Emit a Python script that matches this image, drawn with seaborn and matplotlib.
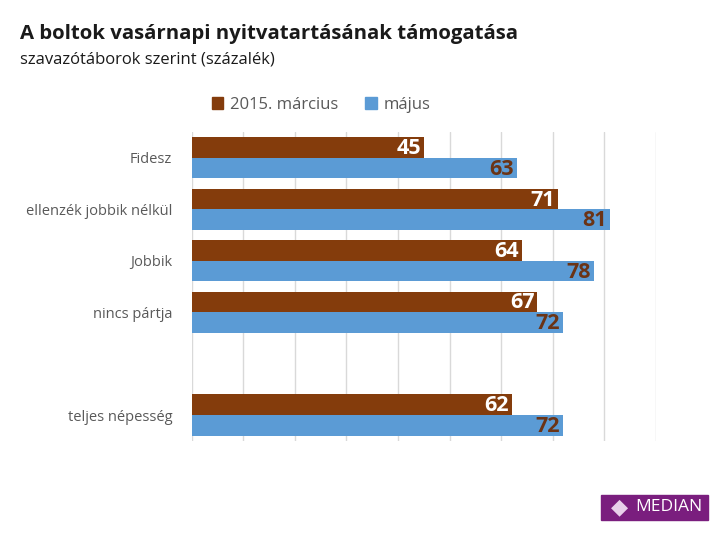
import matplotlib
matplotlib.use("Agg")
import matplotlib.pyplot as plt
import matplotlib.patches as mpatches
import seaborn as sns
import pandas as pd
from matplotlib import font_manager

categories = ["Fidesz", "ellenzék jobbik nélkül", "Jobbik", "nincs pártja", "teljes népesség"]
order = ["Fidesz", "ellenzék jobbik nélkül", "Jobbik", "nincs pártja", " ", "teljes népesség"]
march_2015 = [45, 71, 64, 67, 62]
may = [63, 81, 78, 72, 72]
series_names = ["2015. március", "május"]

title = "A boltok vasárnapi nyitvatartásának támogatása"
subtitle = "szavazótáborok szerint (százalék)"

sns.set_theme(style="white")
names = {f.name for f in font_manager.fontManager.ttflist}
base_font = "Open Sans" if "Open Sans" in names else "DejaVu Sans"
narrow = "Liberation Sans Narrow" if "Liberation Sans Narrow" in names else base_font
plt.rcParams["font.family"] = [base_font, "DejaVu Sans"]

df = pd.DataFrame({
    "cat": categories * 2,
    "value": march_2015 + may,
    "series": [series_names[0]] * len(categories) + [series_names[1]] * len(categories),
})

brown = "#843C0C"
blue = "#5B9BD5"

fig = plt.figure(figsize=(7.1, 5.33), dpi=100)
ax = fig.add_axes([0.270, 0.173, 0.654, 0.579])

sns.barplot(data=df, y="cat", x="value", hue="series", order=order,
            hue_order=series_names, palette=[brown, blue], orient="h",
            width=0.8, ax=ax, legend=False, saturation=1, linewidth=0)

ax.set_xlim(0, 90)
ax.set_ylim(5.5, -0.5)
ax.set_xticks(range(0, 91, 10))
ax.set_xticklabels([])
ax.tick_params(axis="x", length=0)
ax.tick_params(axis="y", length=0, pad=14, labelsize=10.5, labelcolor="#595959")
ax.grid(axis="x", color="#D9D9D9", linewidth=1)
ax.set_axisbelow(True)
for s in ax.spines.values():
    s.set_visible(False)
ax.set_xlabel("")
ax.set_ylabel("")

label_colors = ["white", "#6B3416"]
for cont, lc in zip(ax.containers, label_colors):
    for p in cont:
        w = p.get_width()
        if w != w or w == 0:
            continue
        ax.text(w - 0.6, p.get_y() + p.get_height() / 2 + 0.02, f"{w:.0f}",
                ha="right", va="center", color=lc, fontsize=15.5,
                fontweight="bold", family=[narrow, "DejaVu Sans"])

fig.text(0.028, 0.926, title, fontsize=14.7, fontweight="bold", color="#1a1a1a",
         ha="left", va="baseline")
fig.text(0.028, 0.880, subtitle, fontsize=12, color="#1a1a1a", ha="left", va="baseline")

handles = [mpatches.Patch(color=brown, label=series_names[0]),
           mpatches.Patch(color=blue, label=series_names[1])]
fig.legend(handles=handles, loc="center", bbox_to_anchor=(0.452, 0.803), ncol=2,
           frameon=False, fontsize=12, handlelength=0.7, handleheight=0.7,
           handletextpad=0.4, columnspacing=1.6, labelcolor="#595959")

# MEDIAN logo
logo = mpatches.Rectangle((0.847, 0.025), 0.150, 0.047, transform=fig.transFigure,
                          color="#7A1E7E", zorder=1)
fig.patches.append(logo)
fig.text(0.872, 0.0485, "◆", color="#E8D0EA", fontsize=16, ha="center", va="center",
         family=["DejaVu Sans"], zorder=6)
fig.text(0.942, 0.0485, "MEDIAN", color="white", fontsize=12.5, ha="center", va="center",
         zorder=6)

fig.savefig("out.png", dpi=100)
